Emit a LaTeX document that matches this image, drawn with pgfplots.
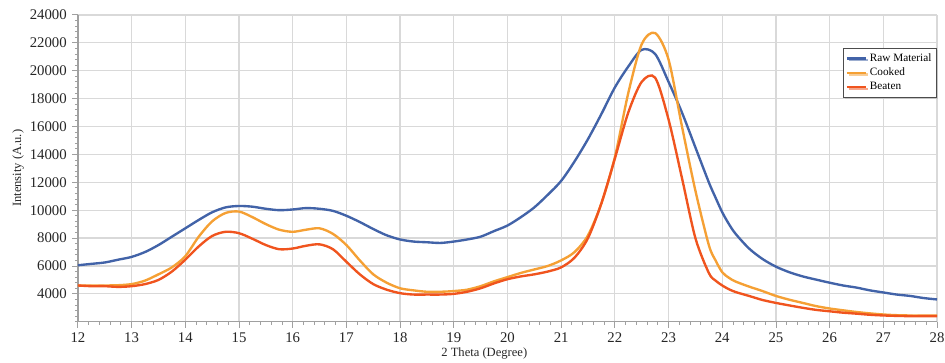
\documentclass[border=0pt]{standalone}
\usepackage{fontspec}
\setmainfont{Liberation Serif}
\usepackage{pgfplots}
\pgfplotsset{compat=1.18}
\usepackage{pgfplotstable}
\usetikzlibrary{calc,shadows}
\definecolor{rawc}{RGB}{66,99,168}
\definecolor{cookc}{RGB}{245,160,52}
\definecolor{beatc}{RGB}{240,84,30}
\definecolor{gridc}{RGB}{217,217,217}
\definecolor{axc}{RGB}{160,160,160}
\pgfplotstableread{
x raw cooked beaten
12.0 6050 4600 4600
12.25 6150 4600 4550
12.5 6250 4600 4550
12.75 6450 4620 4500
13.0 6650 4700 4550
13.25 7000 4950 4700
13.5 7500 5400 5000
13.75 8100 5900 5600
14.0 8700 6700 6450
14.25 9300 8100 7400
14.5 9850 9200 8150
14.75 10200 9800 8450
15.0 10300 9900 8350
15.25 10250 9500 7950
15.5 10100 9000 7500
15.75 10000 8600 7200
16.0 10050 8450 7250
16.25 10150 8600 7450
16.5 10100 8700 7550
16.75 9950 8300 7200
17.0 9600 7500 6300
17.25 9150 6400 5400
17.5 8650 5400 4700
17.75 8200 4800 4300
18.0 7900 4400 4050
18.25 7750 4250 3950
18.5 7700 4150 3950
18.75 7650 4150 3950
19.0 7750 4200 4000
19.25 7900 4300 4150
19.5 8100 4550 4400
19.75 8500 4900 4750
20.0 8900 5200 5050
20.25 9500 5500 5250
20.5 10200 5750 5400
20.75 11100 6000 5600
21.0 12100 6400 5900
21.25 13500 7000 6600
21.5 15100 8200 8000
21.75 16900 10500 10500
22.0 18800 13800 13700
22.25 20300 18400 17000
22.5 21500 21900 19200
22.75 21200 22700 19500
23.0 19200 20800 16500
23.25 17000 16000 12300
23.5 14500 11400 8000
23.75 12000 7500 5500
23.875 10900 6400 4950
24.0 9850 5550 4600
24.125 9000 5150 4330
24.25 8300 4880 4130
24.5 7250 4520 3850
24.75 6500 4200 3560
25.0 5950 3850 3350
25.25 5550 3580 3170
25.5 5250 3350 3000
25.75 5020 3120 2850
26.0 4800 2950 2750
26.25 4600 2820 2650
26.5 4450 2700 2580
26.75 4250 2600 2500
27.0 4100 2520 2450
27.25 3950 2470 2420
27.5 3850 2450 2400
27.75 3700 2450 2400
28.0 3600 2450 2400
}\datatable
\begin{document}
\begin{tikzpicture}
\begin{axis}[
  scale only axis,
  width=581pt, height=207.5pt,
  xmin=12, xmax=28, ymin=2000, ymax=24000,
  xtick={12,...,28},
  ytick={4000,6000,...,24000},
  scaled ticks=false,
  minor x tick num=4,
  minor ytick={2000,2400,...,24000},
  axis x line*=bottom, axis y line*=left,
  axis line style={axc, line width=0.8pt, -},
  tick style={axc, line width=0.6pt},
  major tick length=4pt, minor tick length=2pt,
  tick align=outside,
  grid=major,
  major grid style={gridc, line width=0.8pt},
  /pgf/number format/assume math mode=true,
  /pgf/number format/set thousands separator={},
  /pgf/number format/fixed,
  ticklabel style={font=\fontsize{10}{12}\selectfont, black!85},
  xlabel={2 Theta (Degree)},
  ylabel={Intensity (A.u.)},
  label style={font=\fontsize{8.5}{10}\selectfont, black!85},
  xlabel style={at={(axis description cs:0.473,0)}, anchor=north, yshift=-14pt},
  ylabel style={at={(axis description cs:0,0.5)}, anchor=south, xshift=0pt, yshift=33pt},
  legend style={at={(1,0.893)}, anchor=north east, draw=black!70, line width=0.6pt,
    font=\fontsize{7.6}{9}\selectfont, fill=white, inner sep=1.5pt,
    drop shadow={shadow xshift=1.2pt, shadow yshift=-1.2pt, fill=gray!60},
    row sep=-1pt},
  legend cell align=left,
  legend image code/.code={\draw[#1, line width=1.6pt] (0cm,0cm) -- (0.45cm,0cm);},
]
\addplot[rawc, line width=1.6pt, smooth, tension=0.5] table[x=x, y=raw] {\datatable};
\addlegendentry{Raw Material}
\addplot[cookc, line width=1.6pt, smooth, tension=0.5] table[x=x, y=cooked] {\datatable};
\addlegendentry{Cooked}
\addplot[beatc, line width=1.6pt, smooth, tension=0.5] table[x=x, y=beaten] {\datatable};
\addlegendentry{Beaten}
\end{axis}
\pgfresetboundingbox
\path ($(current axis.south west)+(-52.7pt,-27.4pt)$) rectangle ($(current axis.north east)+(5.4pt,10.1pt)$);
\end{tikzpicture}
\end{document}
